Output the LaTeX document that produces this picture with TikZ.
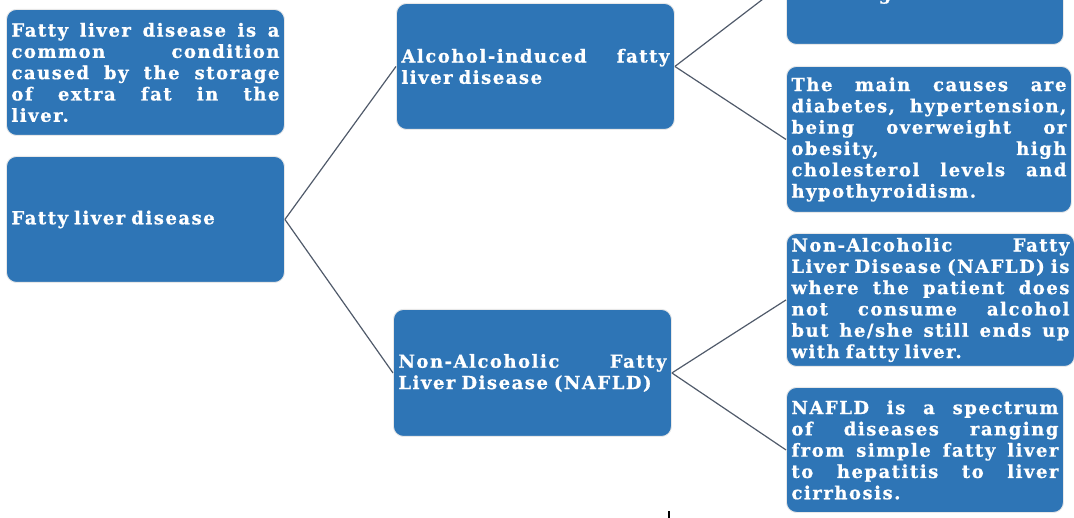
\documentclass[tikz,border=0pt]{standalone}
\usepackage{fontspec}
\setmainfont{DejaVu Serif}[LetterSpace=8.5, BoldFeatures={FakeBold=0.8}]
\definecolor{boxblue}{HTML}{2E75B6}
\definecolor{linkgray}{HTML}{505A6A}
\newcommand{\jl}[1]{\makebox[\hsize][s]{\spaceskip=.2em plus 1fil\relax #1}}
\tikzset{
  box/.style={draw=white!82!gray, line width=0.9pt, fill=boxblue, rounded corners=10pt,
    anchor=north west, text=white, align=left, inner xsep=5pt, inner ysep=0pt,
    font=\bfseries\fontsize{18}{21.3}\selectfont},
  link/.style={draw=linkgray, line width=1.2pt}
}
\begin{document}
\begin{tikzpicture}[x=1pt,y=-1pt]
\useasboundingbox (0,0) rectangle (1074,518);
\clip (0,0) rectangle (1074,518);
\node[box, minimum width=278pt, minimum height=126pt, text width=268pt] (A) at (6,9)
  {\jl{Fatty liver disease is a}\\\jl{common condition}\\\jl{caused by the storage}\\\jl{of extra fat in the}\\liver.};
\node[box, minimum width=278pt, minimum height=126pt, text width=268pt] (B) at (6,156)
  {Fatty liver disease};
\node[box, minimum width=278pt, minimum height=126pt, text width=268pt] (C) at (396,3)
  {\jl{Alcohol-induced fatty}\\liver disease};
\node[box, minimum width=278pt, minimum height=127pt, text width=268pt] (D) at (393,309)
  {\jl{Non-Alcoholic Fatty}\\Liver Disease (NAFLD)};
\node[box, minimum width=277pt, minimum height=126pt, text width=267pt] (E) at (786,-82) {};
\node[box, minimum width=285pt, minimum height=146pt, text width=275pt] (F) at (786,66)
  {\jl{The main causes are}\\\jl{diabetes, hypertension,}\\\jl{being overweight or}\\\jl{obesity, high}\\\jl{cholesterol levels and}\\hypothyroidism.};
\node[box, minimum width=288pt, minimum height=133pt, text width=278pt] (G) at (786,233)
  {\jl{Non-Alcoholic Fatty}\\\jl{Liver Disease (NAFLD) is}\\\jl{where the patient does}\\\jl{not consume alcohol}\\\jl{but he/she still ends up}\\with fatty liver.};
\node[box, minimum width=277pt, minimum height=125pt, text width=267pt] (H) at (786,387)
  {\jl{NAFLD is a spectrum}\\\jl{of diseases ranging}\\\jl{from simple fatty liver}\\\jl{to hepatitis to liver}\\cirrhosis.};
\node[text=white, font=\bfseries\fontsize{18}{21.3}\selectfont, anchor=south, inner sep=0pt] (Eg) at (885,4) {\vphantom{y}g};
\draw[link] (B.east) -- (C.west);
\draw[link] (B.east) -- (D.west);
\draw[link] (C.east) -- (E.west);
\draw[link] (C.east) -- (F.west);
\draw[link] (D.east) -- (G.west);
\draw[link] (D.east) -- (H.west);
\coordinate (t1) at (668.5,511);
\coordinate (t2) at (668.5,518);
\draw[black, line width=2pt] (t1) -- (t2);
\end{tikzpicture}
\end{document}
